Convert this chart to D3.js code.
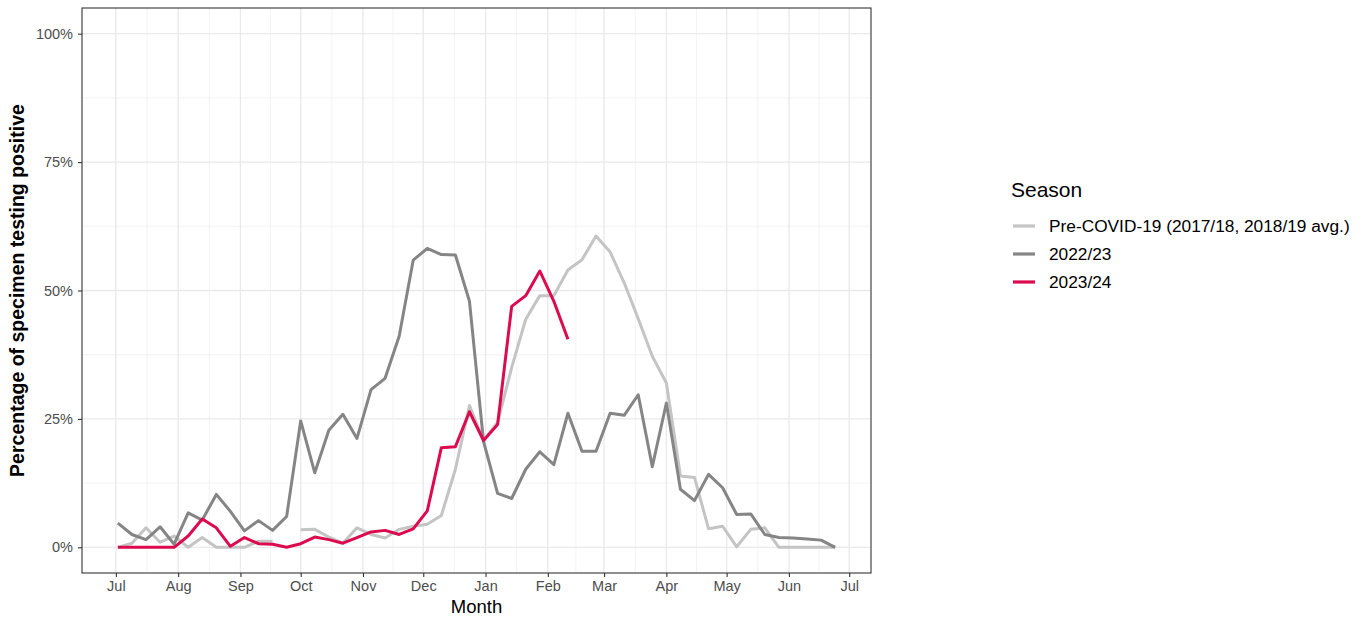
<!DOCTYPE html>
<html>
<head>
<meta charset="utf-8">
<script src="https://cdn.jsdelivr.net/npm/d3@7"></script>
<style>
  body { margin: 0; background: #fff; }
  svg { display: block; font-family: "Liberation Sans", Arial, Helvetica, sans-serif; }
</style>
</head>
<body>
<svg id="chart" width="1366" height="619"></svg>
<script>
// Weekly share of specimens testing positive (%), one value per surveillance week from early July.
const preCovid = [0, 0.8, 3.8, 1.0, 2.2, 0, 1.9, 0, 0, 0, 1.2, 1.2, null, 3.4, 3.5, 2.0,
  0.8, 3.8, 2.5, 1.8, 3.5, 4.1, 4.5, 6.2, 15.2, 27.6, 20.8, 24.3, 35.0, 44.4, 49.0, 49.0,
  54.0, 56.0, 60.6, 57.5, 51.5, 44.5, 37.2, 32.0, 13.9, 13.6, 3.6, 4.1, 0.1, 3.5, 3.8,
  0, 0, 0, 0, 0];
const season2223 = [4.7, 2.5, 1.5, 4.0, 0.6, 6.7, 5.3, 10.3, 7.0, 3.2, 5.2, 3.3, 6.0, 24.6,
  14.5, 22.8, 25.9, 21.2, 30.7, 32.9, 41.1, 55.9, 58.2, 57.0, 56.9, 47.9, 20.6, 10.5, 9.5,
  15.2, 18.6, 16.1, 26.1, 18.7, 18.7, 26.1, 25.7, 29.7, 15.7, 28.1, 11.3, 9.1, 14.2, 11.6,
  6.4, 6.5, 2.5, 1.9, 1.8, 1.6, 1.4, 0];
const season2324 = [0, 0, 0, 0, 0, 2.2, 5.5, 3.8, 0.2, 1.9, 0.7, 0.6, 0, 0.7, 2.0, 1.5,
  0.8, 1.9, 3.0, 3.3, 2.5, 3.6, 7.1, 19.4, 19.6, 26.4, 20.8, 23.9, 46.9, 49.0, 53.8, 47.9,
  40.5];

const seasonNames = ["Pre-COVID-19 (2017/18, 2018/19 avg.)", "2022/23", "2023/24"];
const seasonColors = ["#c4c4c4", "#858585", "#dc0a4f"];
const monthLabels = ["Jul", "Aug", "Sep", "Oct", "Nov", "Dec", "Jan", "Feb", "Mar", "Apr", "May", "Jun", "Jul"];
const yTickValues = [0, 25, 50, 75, 100];

const svg = d3.select("#chart");
const panel = { left: 82, right: 871, top: 8, bottom: 573 };

// Season-relative calendar: month ticks from 1 July, weeks starting 2 July.
const seasonStart = new Date(2022, 6, 1);
const firstWeek = new Date(2022, 6, 2);
const weekDate = i => d3.timeDay.offset(firstWeek, 7 * i);
const nWeeks = Math.max(preCovid.length, season2223.length, season2324.length);
const firstDate = weekDate(0), lastDate = weekDate(nWeeks - 1);
const padMs = (lastDate - firstDate) * 0.05;

const x = d3.scaleTime()
  .domain([new Date(+firstDate - padMs), new Date(+lastDate + padMs)])
  .range([panel.left, panel.right]);
const y = d3.scaleLinear()
  .domain([-5, 105])
  .range([panel.bottom, panel.top]);

const monthTicks = monthLabels.map((m, i) => d3.timeMonth.offset(seasonStart, i));

// Panel grid
const grid = svg.append("g");
const minorX = monthTicks.slice(0, -1).map((d, i) => new Date((+d + +monthTicks[i + 1]) / 2));
const minorY = yTickValues.slice(0, -1).map((v, i) => (v + yTickValues[i + 1]) / 2);

grid.selectAll(".mx").data(minorX).join("line")
  .attr("x1", d => x(d)).attr("x2", d => x(d))
  .attr("y1", panel.top).attr("y2", panel.bottom)
  .attr("stroke", "#f2f2f2").attr("stroke-width", 0.9);
grid.selectAll(".my").data(minorY).join("line")
  .attr("x1", panel.left).attr("x2", panel.right)
  .attr("y1", d => y(d)).attr("y2", d => y(d))
  .attr("stroke", "#f2f2f2").attr("stroke-width", 0.9);
grid.selectAll(".Mx").data(monthTicks).join("line")
  .attr("x1", d => x(d)).attr("x2", d => x(d))
  .attr("y1", panel.top).attr("y2", panel.bottom)
  .attr("stroke", "#e9e9e9").attr("stroke-width", 1.3);
grid.selectAll(".My").data(yTickValues).join("line")
  .attr("x1", panel.left).attr("x2", panel.right)
  .attr("y1", d => y(d)).attr("y2", d => y(d))
  .attr("stroke", "#e9e9e9").attr("stroke-width", 1.3);

// Series lines
const line = d3.line()
  .defined(d => d.v != null)
  .x(d => x(d.date))
  .y(d => y(d.v));

const seriesValues = [preCovid, season2223, season2324];
seriesValues.forEach((vals, s) => {
  const pts = vals.map((v, i) => ({ date: weekDate(i), v }));
  svg.append("path")
    .datum(pts)
    .attr("d", line)
    .attr("fill", "none")
    .attr("stroke", seasonColors[s])
    .attr("stroke-width", 3)
    .attr("stroke-linejoin", "round");
});

// Panel border
svg.append("rect")
  .attr("x", panel.left).attr("y", panel.top)
  .attr("width", panel.right - panel.left).attr("height", panel.bottom - panel.top)
  .attr("fill", "none").attr("stroke", "#333").attr("stroke-width", 1.1);

// Axes
const xAxis = svg.append("g")
  .attr("transform", `translate(0,${panel.bottom})`)
  .call(d3.axisBottom(x).tickValues(monthTicks).tickFormat((d, i) => monthLabels[i])
    .tickSize(4).tickPadding(4));
const yAxis = svg.append("g")
  .attr("transform", `translate(${panel.left},0)`)
  .call(d3.axisLeft(y).tickValues(yTickValues).tickFormat(d => d + "%")
    .tickSize(4).tickPadding(5));
[xAxis, yAxis].forEach(g => {
  g.select(".domain").remove();
  g.selectAll(".tick line").attr("stroke", "#333").attr("stroke-width", 1.1);
  g.selectAll(".tick text").attr("fill", "#4d4d4d")
    .style("font-size", "14.5px").style("font-family", "'Liberation Sans', Arial, sans-serif");
});

// Axis titles
svg.append("text")
  .attr("x", (panel.left + panel.right) / 2).attr("y", 613)
  .attr("text-anchor", "middle")
  .style("font-size", "18.5px").attr("fill", "#000")
  .text("Month");
svg.append("text")
  .attr("transform", `translate(24,${(panel.top + panel.bottom) / 2}) rotate(-90)`)
  .attr("text-anchor", "middle")
  .style("font-size", "19.5px").style("font-weight", "bold").attr("fill", "#000")
  .text("Percentage of specimen testing positive");

// Legend
const legend = svg.append("g").attr("transform", "translate(1011,0)");
legend.append("text")
  .attr("x", 0).attr("y", 197)
  .style("font-size", "21px").attr("fill", "#000")
  .text("Season");
const items = legend.selectAll(".item").data(seasonNames).join("g")
  .attr("transform", (d, i) => `translate(0,${226 + i * 28})`);
items.append("line")
  .attr("x1", 2).attr("x2", 24).attr("y1", 0).attr("y2", 0)
  .attr("stroke", (d, i) => seasonColors[i]).attr("stroke-width", 3.2);
items.append("text")
  .attr("x", 38).attr("y", 0).attr("dy", "0.35em")
  .style("font-size", "17.3px").attr("fill", "#000")
  .text(d => d);
</script>
</body>
</html>
